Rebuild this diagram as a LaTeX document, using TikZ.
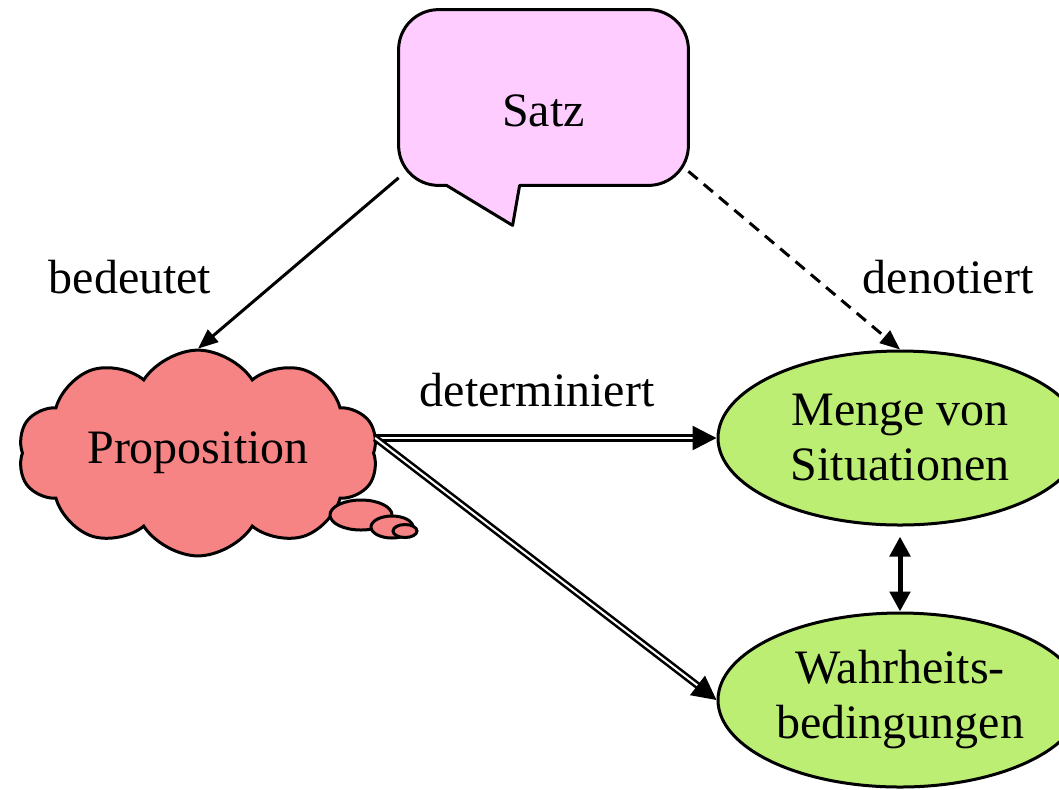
\documentclass[tikz,border=0pt]{standalone}
\usepackage{fontspec}
\setmainfont{Liberation Serif}
\usetikzlibrary{positioning,calc,shapes.symbols,shapes.geometric,arrows.meta,backgrounds}

\begin{document}
\begin{tikzpicture}[x=0.5pt,y=-0.5pt]
	\definecolor{satzpink}{RGB}{255,204,255}
	\definecolor{propred}{RGB}{246,132,132}
	\definecolor{sitgreen}{RGB}{188,238,116}
	\tikzset{
		txt/.style={font=\fontsize{24}{27.5}\selectfont},
		satzbox/.style={
			rectangle, minimum width=144.5pt, minimum height=87.5pt,
			inner sep=0pt, text height=29pt, text depth=0pt, txt
		},
		callout/.style={
			draw=black, fill=satzpink, line width=1.5pt, line join=round
		},
		propcloud/.style={
			cloud, cloud puffs=10, cloud puff arc=115, aspect=1.95,
			draw=black, fill=propred, line width=1.5pt,
			minimum width=180pt, minimum height=92pt, inner sep=0pt, txt
		},
		bubble/.style={draw=black, fill=propred, line width=1.5pt},
		sitell/.style={
			ellipse, draw=black, fill=sitgreen, line width=1.5pt,
			minimum width=182pt, minimum height=87pt, inner sep=0pt,
			align=center, txt
		},
		lbl/.style={anchor=base, inner sep=0pt, txt},
		bedeut/.style={
			-{Triangle[length=10pt,width=8pt]}, line width=1.5pt
		},
		denot/.style={
			-{Triangle[length=10pt,width=8pt]}, line width=1.5pt,
			dash pattern=on 6pt off 4pt
		},
		det/.style={
			-{Triangle[length=12pt,width=12pt]}, line width=1.3pt,
			double, double distance=1pt
		},
		equiv/.style={
			{Triangle[length=10pt,width=10pt]}-{Triangle[length=10pt,width=10pt]},
			line width=2.5pt, shorten <=5pt
		}
	}
	\useasboundingbox (0,0) rectangle (1059,789);
	
	% ======= Satz: Sprechblase =======
	\node[satzbox] (satz) at (543.5,97.5) {Satz};
	\begin{scope}[on background layer]
		\draw[callout] ($(satz.south west)+(48,0)$) [rounded corners=20pt]
			-- (satz.south west) -- (satz.north west)
			-- (satz.north east) -- (satz.south east)
			[sharp corners] -- ($(satz.south west)+(121,0)$)
			-- ($(satz.south west)+(114,40)$) -- cycle;
	\end{scope}
	
	% ======= Proposition: Wolke =======
	\node[propcloud] (prop) at (198,453) {Proposition};
	\draw[bubble] (361,515) ellipse [x radius=31, y radius=15];
	\draw[bubble] (392,527) ellipse [x radius=21, y radius=11];
	\draw[bubble] (405,531) ellipse [x radius=12, y radius=6.5];
	
	% ======= Situationen und Wahrheitsbedingungen =======
	\node[sitell] (men)  at (900,438) {Menge von\\Situationen};
	\node[sitell] (wahr) at (900,700) {Wahrheits-\\bedingungen};
	
	% ======= Beschriftungen =======
	\node[lbl] (lbed) at (130,293) {bedeutet};
	\node[lbl] (lden) at (948,293) {denotiert};
	\node[lbl] (ldet) at (537,406) {determiniert};
	
	% ======= Pfeile =======
	\draw[bedeut] (satz.209) -- (prop.north);
	\draw[denot]  (satz.-27) -- (men.north);
	\draw[det] (prop.east |- men.west) -- (men.west);
	\draw[det] (prop.east |- men.west) -- (wahr.west);
	\draw[equiv] (men.south) -- (wahr.north);
	
\end{tikzpicture}
\end{document}
